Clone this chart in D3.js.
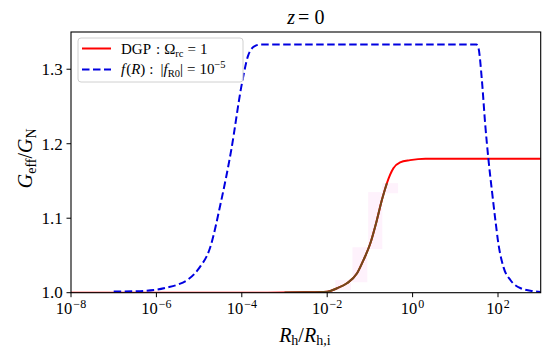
<!doctype html>
<html>
  <head>
    <meta charset="utf-8">
    <script src="https://cdn.jsdelivr.net/npm/d3@7/dist/d3.min.js"></script>
    <style>
      body { margin: 0; background: #fff; }
      svg { display: block; }
    </style>
  </head>
  <body>
    <svg id="chart" width="550" height="357" font-family="'Liberation Serif', serif"></svg>
    <script>
      // DGP curve (Omega_rc = 1)
      const dgpR = [1e-8, 1e-4, 1e-3, 3e-3, 1e-2, 1.7e-2, 2.9e-2, 5e-2, 7.1e-2, 0.102, 0.145, 0.19, 0.25, 0.355, 0.51, 0.87, 2, 1e3];
      const dgpG = [1.0, 1.0, 1.0002, 1.0005, 1.0013, 1.006, 1.0126, 1.026, 1.044, 1.066, 1.097, 1.124, 1.147, 1.167, 1.175, 1.178, 1.18, 1.18];

      // f(R) curve, |f_R0| = 1e-5
      const fRR = [1e-7, 3.2e-7, 1e-6, 1.8e-6, 3.2e-6, 5.6e-6, 1e-5, 1.8e-5, 3.2e-5, 5.6e-5, 1e-4, 1.4e-4, 2e-4, 2.8e-4,
                   31, 35, 42, 50, 60, 72, 87, 102, 135, 195, 340, 680, 1e3];
      const fRG = [1.0015, 1.002, 1.004, 1.007, 1.011, 1.018, 1.033, 1.06, 1.12, 1.19, 1.28, 1.318, 1.331, 1.3333,
                   1.3333, 1.328, 1.285, 1.227, 1.178, 1.137, 1.097, 1.066, 1.034, 1.017, 1.006, 1.002, 1.001];

      // faint shaded blocks behind the DGP transition: [R0, R1, G0, G1]
      const bandBlocks = [
        [1.55e-2, 3.6e-2, 1.0036, 1.017],
        [3.9e-2, 8.7e-2, 1.014, 1.061],
        [9.1e-2, 0.195, 1.0585, 1.135],
        [0.195, 0.457, 1.1335, 1.147]
      ];
      const overlayMaxR = 0.25;

      const xTicks = [1e-8, 1e-6, 1e-4, 1e-2, 1e0, 1e2];
      const xTickExp = ["\u22128", "\u22126", "\u22124", "\u22122", "0", "2"];
      const yTicks = [1.0, 1.1, 1.2, 1.3];

      const margin = { left: 71, top: 32, right: 9.3, bottom: 64.3 };
      const W = 550, H = 357;
      const iw = W - margin.left - margin.right;
      const ih = H - margin.top - margin.bottom;

      const svg = d3.select("#chart");
      const g = svg.append("g").attr("transform", "translate(" + margin.left + "," + margin.top + ")");

      const x = d3.scaleLog().domain([1e-8, 1e3]).range([0, iw]);
      const y = d3.scaleLinear().domain([1.0, 1.35]).range([ih, 0]);

      const defs = svg.append("defs");
      defs.append("clipPath").attr("id", "clip")
        .append("rect").attr("width", iw).attr("height", ih);

      const plot = g.append("g").attr("clip-path", "url(#clip)");

      plot.selectAll("rect.band")
        .data(bandBlocks)
        .enter()
        .append("rect")
        .attr("class", "band")
        .attr("x", d => x(d[0]))
        .attr("width", d => x(d[1]) - x(d[0]))
        .attr("y", d => y(d[3]))
        .attr("height", d => y(d[2]) - y(d[3]))
        .style("fill", "#fef2fc");

      const line = d3.line()
        .x(d => x(d[0]))
        .y(d => y(d[1]))
        .curve(d3.curveMonotoneX);

      const dgp = dgpR.map((r, i) => [r, dgpG[i]]);
      const fR = fRR.map((r, i) => [r, fRG[i]]);

      plot.append("path")
        .datum(dgp)
        .attr("d", line)
        .style("fill", "none")
        .style("stroke", "#ff0000")
        .style("stroke-width", 2);

      plot.append("path")
        .datum(dgp.filter(d => d[0] >= 1e-3 && d[0] <= overlayMaxR))
        .attr("d", line)
        .style("fill", "none")
        .style("stroke", "#6f4a1c")
        .style("stroke-width", 2);

      plot.append("path")
        .datum(fR)
        .attr("d", line)
        .style("fill", "none")
        .style("stroke", "#0000e0")
        .style("stroke-width", 2)
        .style("stroke-dasharray", "7.5,3.5");

      // axes
      const xAxis = g.append("g").attr("transform", "translate(0," + ih + ")");
      xAxis.selectAll("line")
        .data(xTicks)
        .enter()
        .append("line")
        .attr("x1", d => x(d)).attr("x2", d => x(d))
        .attr("y1", 0).attr("y2", 4.5)
        .style("stroke", "#000").style("stroke-width", 1);

      const xl = xAxis.selectAll("text")
        .data(xTicks)
        .enter()
        .append("text")
        .attr("x", d => x(d))
        .attr("y", 21.5)
        .attr("text-anchor", "middle")
        .style("font-size", "16.5px");
      xl.append("tspan").text("10");
      xl.append("tspan")
        .attr("dx", 1)
        .attr("dy", -6.5)
        .style("font-size", "12px")
        .text((d, i) => xTickExp[i]);

      const yAxis = g.append("g");
      yAxis.selectAll("line")
        .data(yTicks)
        .enter()
        .append("line")
        .attr("x1", -4.5).attr("x2", 0)
        .attr("y1", d => y(d)).attr("y2", d => y(d))
        .style("stroke", "#000").style("stroke-width", 1);

      yAxis.selectAll("text")
        .data(yTicks)
        .enter()
        .append("text")
        .attr("x", -8.3)
        .attr("y", d => y(d))
        .attr("dy", "0.34em")
        .attr("text-anchor", "end")
        .style("font-size", "17px")
        .text(d => d3.format(".1f")(d));

      g.append("rect")
        .attr("width", iw).attr("height", ih)
        .style("fill", "none")
        .style("stroke", "#000")
        .style("stroke-width", 1.1);

      // title
      const title = svg.append("text")
        .attr("x", margin.left + iw / 2)
        .attr("y", 24)
        .attr("text-anchor", "middle")
        .style("font-size", "20px");
      title.append("tspan").style("font-style", "italic").text("z");
      title.append("tspan").attr("dx", 3).text("=");
      title.append("tspan").attr("dx", 5).text("0");

      // x label
      const xlab = svg.append("text")
        .attr("x", margin.left + iw / 2 - 1)
        .attr("y", 341.5)
        .attr("text-anchor", "middle")
        .style("font-size", "20px");
      xlab.append("tspan").style("font-style", "italic").text("R");
      xlab.append("tspan").attr("dy", 3.5).style("font-size", "14px").text("h");
      xlab.append("tspan").attr("dy", -3.5).text("/");
      xlab.append("tspan").style("font-style", "italic").text("R");
      xlab.append("tspan").attr("dy", 3.5).style("font-size", "14px").text("h,i");

      // y label
      const ylab = svg.append("text")
        .attr("transform", "translate(32," + (margin.top + ih / 2 - 4) + ") rotate(-90)")
        .attr("text-anchor", "middle")
        .style("font-size", "20px");
      ylab.append("tspan").style("font-style", "italic").text("G");
      ylab.append("tspan").attr("dy", 3.5).style("font-size", "14px").text("eff");
      ylab.append("tspan").attr("dy", -3.5).text("/");
      ylab.append("tspan").style("font-style", "italic").text("G");
      ylab.append("tspan").attr("dy", 3.5).style("font-size", "14px").text("N");

      // legend
      const leg = g.append("g").attr("transform", "translate(7,6)");
      leg.append("rect")
        .attr("width", 165).attr("height", 44)
        .attr("rx", 3)
        .style("fill", "#fff").style("fill-opacity", 0.8)
        .style("stroke", "#d0d0d0").style("stroke-width", 1);

      leg.append("line")
        .attr("x1", 4).attr("x2", 33).attr("y1", 10.5).attr("y2", 10.5)
        .style("stroke", "#ff0000").style("stroke-width", 2);
      leg.append("line")
        .attr("x1", 4).attr("x2", 33).attr("y1", 31.5).attr("y2", 31.5)
        .style("stroke", "#0000e0").style("stroke-width", 2)
        .style("stroke-dasharray", "7.5,3.5");

      const t1 = leg.append("text").attr("x", 43).attr("y", 16).style("font-size", "15px");
      t1.append("tspan").text("DGP");
      t1.append("tspan").attr("dx", 5).text(":");
      t1.append("tspan").attr("dx", 4).text("\u03A9");
      t1.append("tspan").attr("dy", 3).style("font-size", "10.5px").text("rc");
      t1.append("tspan").attr("dx", 4).attr("dy", -3).text("=");
      t1.append("tspan").attr("dx", 4).text("1");

      const t2 = leg.append("text").attr("x", 43).attr("y", 36).style("font-size", "15px");
      t2.append("tspan").style("font-style", "italic").text("f");
      t2.append("tspan").attr("dx", 1).text("(");
      t2.append("tspan").style("font-style", "italic").text("R");
      t2.append("tspan").text(")");
      t2.append("tspan").attr("dx", 4).text(":");
      t2.append("tspan").attr("dx", 7).text("|");
      t2.append("tspan").style("font-style", "italic").text("f");
      t2.append("tspan").attr("dy", 3).style("font-size", "10.5px").text("R0");
      t2.append("tspan").attr("dy", -3).text("|");
      t2.append("tspan").attr("dx", 4).text("=");
      t2.append("tspan").attr("dx", 4).text("10");
      t2.append("tspan").attr("dy", -6).style("font-size", "10.5px").text("\u22125");
    </script>
  </body>
</html>
